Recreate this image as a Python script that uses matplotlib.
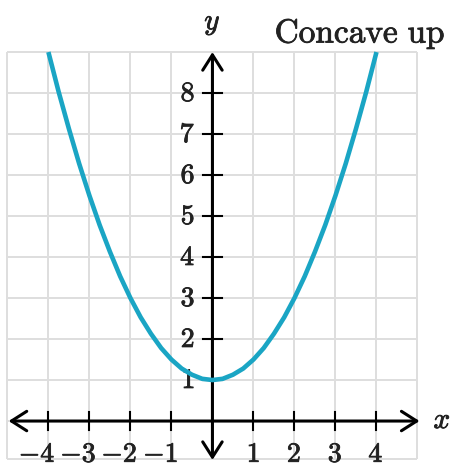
import numpy as np
import matplotlib
matplotlib.use("Agg")
import matplotlib.pyplot as plt
from matplotlib.patches import FancyArrowPatch
import matplotlib.patheffects as pe

plt.rcParams['mathtext.fontset'] = 'cm'

# curve points read along the parabola
curve_x = [-4, -3.75, -3.5, -3.25, -3, -2.75, -2.5, -2.25, -2, -1.75, -1.5, -1.25, -1,
           -0.75, -0.5, -0.25, 0, 0.25, 0.5, 0.75, 1, 1.25, 1.5, 1.75, 2,
           2.25, 2.5, 2.75, 3, 3.25, 3.5, 3.75, 4]
curve_y = [9, 8.03, 7.13, 6.28, 5.5, 4.78, 4.13, 3.53, 3, 2.53, 2.13, 1.78, 1.5,
           1.28, 1.13, 1.03, 1, 1.03, 1.13, 1.28, 1.5, 1.78, 2.13, 2.53, 3,
           3.53, 4.13, 4.78, 5.5, 6.28, 7.13, 8.03, 9]

x_ticks = [-4, -3, -2, -1, 1, 2, 3, 4]
y_ticks = [1, 2, 3, 4, 5, 6, 7, 8]
grid_x = list(range(-5, 6))
grid_y = list(range(0, 10))

fig = plt.figure(figsize=(4.54, 4.69), dpi=100)
ax = fig.add_axes([0, 0, 1, 1])
ax.set_xlim(-5.18, 5.89)
ax.set_ylim(-1.17, 10.27)
ax.axis('off')

# slightly heavier text strokes
heavy = [pe.withStroke(linewidth=0.6, foreground='#222222')]

# background grid
gc = '#dedede'
ax.vlines(grid_x, -0.92, 9, color=gc, lw=1.4, zorder=1)
ax.hlines(grid_y, -5, 5, color=gc, lw=1.4, zorder=1)
ax.hlines([-0.92], -5, 5, color=gc, lw=1.4, zorder=1)

# axes with arrow heads
style = '<->,head_length=0.55,head_width=0.35'
ax.add_patch(FancyArrowPatch((-4.97, 0), (5.05, 0), arrowstyle=style,
                             mutation_scale=20, lw=2.2, color='black',
                             shrinkA=0, shrinkB=0, zorder=3))
ax.add_patch(FancyArrowPatch((0, -0.95), (0, 9.0), arrowstyle=style,
                             mutation_scale=20, lw=2.2, color='black',
                             shrinkA=0, shrinkB=0, zorder=3))

# tick marks and labels
t = 0.23
for xv in x_ticks:
    ax.plot([xv, xv], [-t, t], color='black', lw=1.5, zorder=3)
    ax.text(xv + 0.17, -0.8, '$%d$' % xv, ha='right', va='center',
            fontsize=20, color='#222222', path_effects=heavy, zorder=4)
for yv in y_ticks:
    ax.plot([-t, t], [yv, yv], color='black', lw=1.5, zorder=3)
    ax.text(-0.42, yv, '$%d$' % yv, ha='right', va='center',
            fontsize=20, color='#222222', path_effects=heavy, zorder=4)

ax.text(0, 9.7, '$y$', ha='center', va='center', fontsize=21,
        color='#222222', path_effects=heavy)
ax.text(5.6, 0.02, '$x$', ha='center', va='center', fontsize=21,
        color='#222222', path_effects=heavy)
ax.text(5.68, 9.45, r'$\mathrm{Concave\ up}$', ha='right', va='center',
        fontsize=24, color='#222222', path_effects=heavy)

ax.plot(curve_x, curve_y, color='#1aa5c4', lw=3.3, solid_capstyle='butt', zorder=5)

fig.savefig('out.png', dpi=100)
